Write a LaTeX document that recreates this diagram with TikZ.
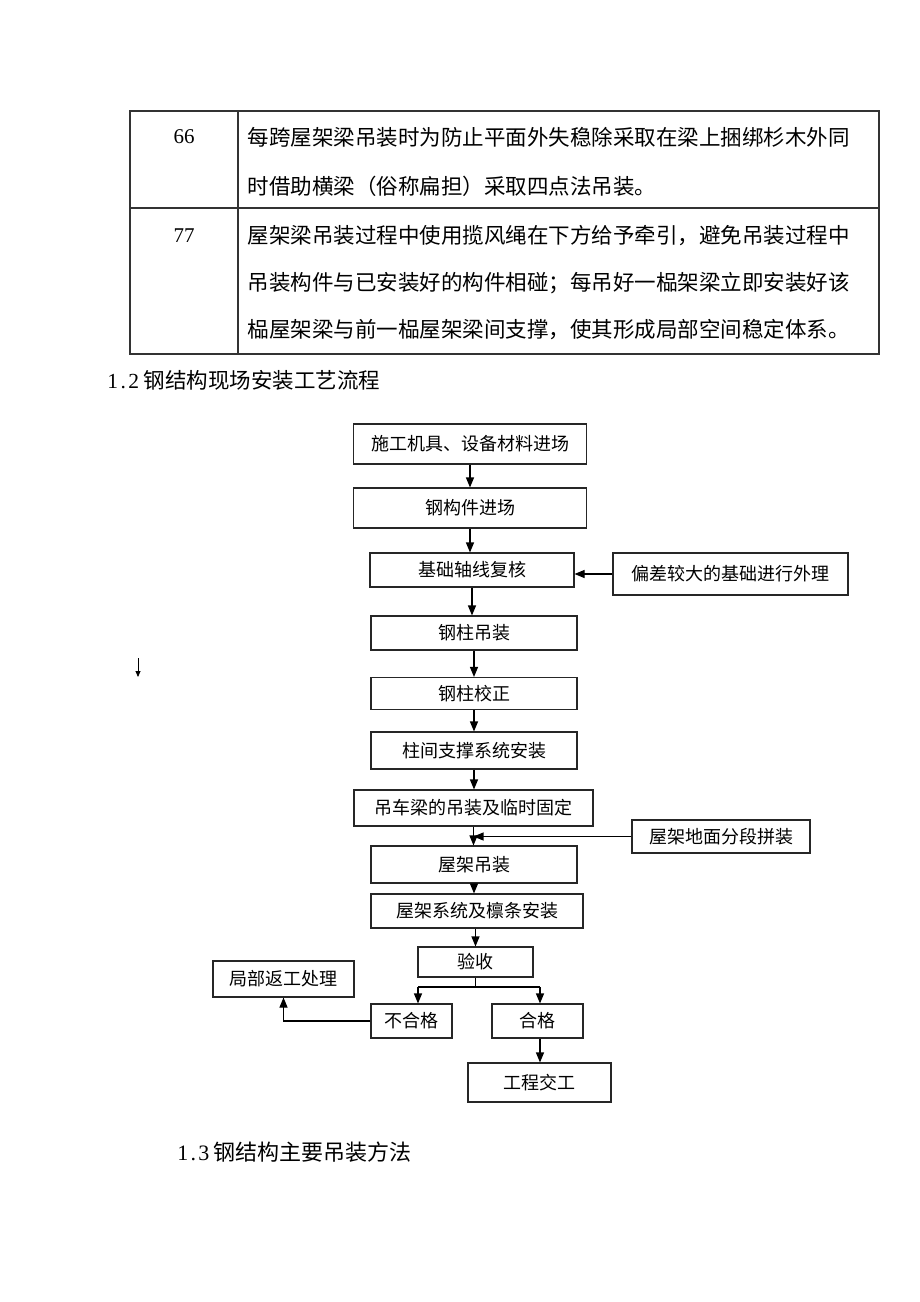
\documentclass[tikz,border=0pt]{standalone}
\usepackage{fontspec}
\setmainfont{Liberation Serif}
\newfontfamily\cjk{Noto Sans CJK SC}
\usetikzlibrary{arrows.meta}
\begin{document}
\begin{tikzpicture}[x=1pt,y=-1pt, line width=1.1pt,
  box/.style={draw=black!85, inner sep=0pt, font=\cjk\fontsize{18}{18}\selectfont, align=center},
  tt/.style={inner sep=0pt, anchor=west, font=\cjk\fontsize{21.5}{21.5}\selectfont},
  num/.style={inner sep=0pt, font=\fontsize{21}{21}\selectfont},
  arr/.style={draw=black, -{Triangle[length=10pt,width=8pt]}},
  tbl/.style={draw=black!80, line width=1.1pt}]
\useasboundingbox[fill=white] (0,0) rectangle (920,1302);

% table
\draw[tbl] (130,111) rectangle (879,354);
\draw[tbl] (238,111) -- (238,354);
\draw[tbl] (130,208) -- (879,208);
\node[num] (n66) at (184,137) {66};
\node[num] (n77) at (184,236) {77};
\node[tt] (r1a) at (247,137) {每跨屋架梁吊装时为防止平面外失稳除采取在梁上捆绑杉木外同};
\node[tt] (r1b) at (247,186) {时借助横梁（俗称扁担）采取四点法吊装。};
\node[tt] (r2a) at (247,236) {屋架梁吊装过程中使用揽风绳在下方给予牵引，避免吊装过程中};
\node[tt] (r2b) at (247,283) {吊装构件与已安装好的构件相碰；每吊好一榀架梁立即安装好该};
\node[tt] (r2c) at (247,330) {榀屋架梁与前一榀屋架梁间支撑，使其形成局部空间稳定体系。};

% headings
\node[inner sep=0pt, anchor=west] (h12) at (107,380)
  {\fontsize{21.5}{21.5}\selectfont\makebox[10.5pt]{1}\makebox[10.5pt]{.}\makebox[10.5pt]{2}\hspace{4.5pt}{\cjk 钢结构现场安装工艺流程}};
\node[inner sep=0pt, anchor=west] (h13) at (177,1152)
  {\fontsize{22}{22}\selectfont\makebox[10.5pt]{1}\makebox[10.5pt]{.}\makebox[10.5pt]{3}\hspace{4.5pt}{\cjk 钢结构主要吊装方法}};

% flowchart boxes
\node[box, minimum width=233pt, minimum height=40pt] (b1) at (470,444) {施工机具、设备材料进场};
\node[box, minimum width=233pt, minimum height=40pt] (b2) at (470,508) {钢构件进场};
\node[box, minimum width=204pt, minimum height=34pt] (b3) at (472,570) {基础轴线复核};
\node[box, minimum width=235pt, minimum height=42pt] (s1) at (730.5,574) {偏差较大的基础进行外理};
\node[box, minimum width=206pt, minimum height=34pt] (b4) at (474,633) {钢柱吊装};
\node[box, minimum width=206pt, minimum height=32pt] (b5) at (474,693.5) {钢柱校正};
\node[box, minimum width=206pt, minimum height=37pt] (b6) at (474,750.5) {柱间支撑系统安装};
\node[box, minimum width=239pt, minimum height=36pt] (b7) at (473.5,808) {吊车梁的吊装及临时固定};
\node[box, minimum width=178pt, minimum height=33pt] (s2) at (721,836.5) {屋架地面分段拼装};
\node[box, minimum width=206pt, minimum height=37pt] (b8) at (474,864.5) {屋架吊装};
\node[box, minimum width=212pt, minimum height=34pt] (b9) at (477,911) {屋架系统及檩条安装};
\node[box, minimum width=115pt, minimum height=30pt] (v) at (475.5,962) {验收};
\node[box, minimum width=81pt, minimum height=34pt] (ng) at (411.5,1021) {不合格};
\node[box, minimum width=91pt, minimum height=34pt] (ok) at (537.5,1021) {合格};
\node[box, minimum width=141pt, minimum height=36pt] (rw) at (283.5,979) {局部返工处理};
\node[box, minimum width=143pt, minimum height=39pt] (done) at (539.5,1082.5) {工程交工};

% connectors
\draw[arr] (b1.south) -- (b1.south |- b2.north);
\draw[arr] (b2.south) -- (b2.south |- b3.north);
\draw[arr] (s1.west) -- (s1.west -| b3.east);
\draw[arr] (b3.south) -- (b3.south |- b4.north);
\draw[arr] (b4.south) -- (b4.south |- b5.north);
\draw[arr] (b5.south) -- (b5.south |- b6.north);
\draw[arr] (b6.south) -- (b6.south |- b7.north);
\draw[arr] (b7.south) -- (b7.south |- b8.north);
\draw[arr] (s2.west) -- (s2.west -| b7.south);
\draw[arr] (b8.south) -- (b8.south |- b9.north);
\draw[arr] (b9.south -| v.south) -- (v.north);
\coordinate (jl) at (418,987);
\coordinate (jr) at (540,987);
\draw (v.south) -- (v.south |- jl);
\draw (jl) -- (jr);
\draw[arr] (jl) -- (jl |- ng.north);
\draw[arr] (jr) -- (jr |- ok.north);
\draw[arr] (ng.west) -| (rw.south);
\draw[arr] (ok.south -| jr) -- (jr |- done.north);

% stray small arrow
\coordinate (sa) at (138,658);
\coordinate (sb) at (138,677);
\draw[line width=0.8pt, -{Triangle[length=6pt,width=5pt]}] (sa) -- (sb);
\end{tikzpicture}
\end{document}
